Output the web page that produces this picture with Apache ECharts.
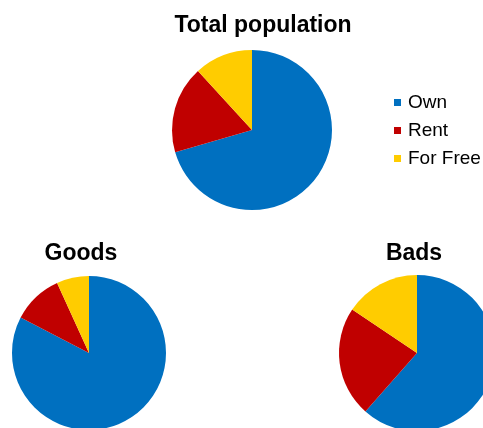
<!DOCTYPE html>
<html>
<head>
<meta charset="utf-8">
<script src="https://cdn.jsdelivr.net/npm/echarts@6/dist/echarts.min.js"></script>
<style>
  html, body { margin: 0; padding: 0; background: #ffffff; }
  #chart { width: 483px; height: 428px; }
</style>
</head>
<body>
<div id="chart"></div>
<script>
// Housing tenure shares (%) for each population segment
const categories = ['Own', 'Rent', 'For Free'];
const totalPopulation = [70.5, 17.7, 11.8];
const goods = [82.6, 10.6, 6.8];
const bads = [61.5, 22.9, 15.6];
const colors = ['#0070C0', '#C00000', '#FFCC00'];

const toData = vals => categories.map((name, i) => ({ name, value: vals[i] }));

const pieBase = {
  type: 'pie',
  startAngle: 90,
  clockwise: true,
  label: { show: false },
  labelLine: { show: false },
  emphasis: { disabled: true },
  itemStyle: { borderWidth: 0 },
  animation: false
};

const titleStyle = {
  fontFamily: 'Liberation Sans, Arial, sans-serif',
  fontWeight: 'bold',
  fontSize: 23,
  color: '#000000'
};

const chart = echarts.init(document.getElementById('chart'), null, { renderer: 'canvas' });
chart.setOption({
  color: colors,
  title: [
    { text: 'Total population', left: 258, top: 9, textAlign: 'center', textStyle: titleStyle },
    { text: 'Goods', left: 76, top: 237, textAlign: 'center', textStyle: titleStyle },
    { text: 'Bads', left: 409, top: 237, textAlign: 'center', textStyle: titleStyle }
  ],
  legend: {
    orient: 'vertical',
    left: 389,
    top: 88,
    itemWidth: 7,
    itemHeight: 7,
    itemGap: 9,
    icon: 'rect',
    data: categories,
    selectedMode: false,
    textStyle: {
      fontFamily: 'Liberation Sans, Arial, sans-serif',
      fontSize: 19,
      color: '#000000',
      padding: [0, 0, 0, 2]
    }
  },
  series: [
    Object.assign({}, pieBase, { name: 'Total population', center: [252, 130], radius: 80, data: toData(totalPopulation) }),
    Object.assign({}, pieBase, { name: 'Goods', center: [89, 353], radius: 77, data: toData(goods) }),
    Object.assign({}, pieBase, { name: 'Bads', center: [417, 353], radius: 78, data: toData(bads) })
  ]
});
</script>
</body>
</html>
